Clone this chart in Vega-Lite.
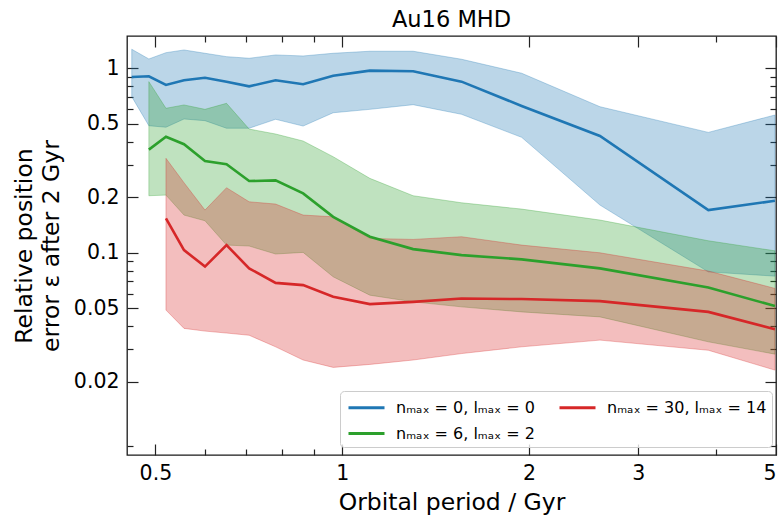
{
  "$schema": "https://vega.github.io/schema/vega-lite/v6.json",
  "width": 649,
  "height": 419,
  "autosize": {"type": "none"},
  "padding": {"left": 127, "top": 36, "right": 4, "bottom": 60},
  "config": {
    "font": "DejaVu Sans",
    "view": {"stroke": "#1a1a1a", "strokeWidth": 1.3},
    "axis": {"grid": false, "domain": false, "tickColor": "#222222", "tickWidth": 1.2, "labelColor": "#000000", "titleColor": "#000000", "labelFontSize": 20.5, "titleFontSize": 23.5, "titleFontWeight": "normal", "labelFlush": true, "labelOverlap": false, "labelBound": false}
  },
  "title": {"text": "Au16 MHD", "fontSize": 22.5, "fontWeight": "normal", "color": "#000000", "offset": 4},
  "datasets": {
    "d": [
      {"k": 0, "s": "nₘₐₓ = 0, lₘₐₓ = 0", "p": 0.458, "m": 0.899, "hi": 1.271, "lo": 0.703},
      {"k": 0, "s": "nₘₐₓ = 0, lₘₐₓ = 0", "p": 0.488, "m": 0.907, "hi": 1.126, "lo": 0.489},
      {"k": 0, "s": "nₘₐₓ = 0, lₘₐₓ = 0", "p": 0.520, "m": 0.814, "hi": 1.218, "lo": 0.480},
      {"k": 0, "s": "nₘₐₓ = 0, lₘₐₓ = 0", "p": 0.556, "m": 0.863, "hi": 1.260, "lo": 0.532},
      {"k": 0, "s": "nₘₐₓ = 0, lₘₐₓ = 0", "p": 0.601, "m": 0.891, "hi": 1.209, "lo": 0.521},
      {"k": 0, "s": "nₘₐₓ = 0, lₘₐₓ = 0", "p": 0.651, "m": 0.848, "hi": 1.159, "lo": 0.474},
      {"k": 0, "s": "nₘₐₓ = 0, lₘₐₓ = 0", "p": 0.708, "m": 0.800, "hi": 1.136, "lo": 0.474},
      {"k": 0, "s": "nₘₐₓ = 0, lₘₐₓ = 0", "p": 0.781, "m": 0.863, "hi": 1.184, "lo": 0.530},
      {"k": 0, "s": "nₘₐₓ = 0, lₘₐₓ = 0", "p": 0.865, "m": 0.821, "hi": 1.169, "lo": 0.487},
      {"k": 0, "s": "nₘₐₓ = 0, lₘₐₓ = 0", "p": 0.967, "m": 0.914, "hi": 1.209, "lo": 0.575},
      {"k": 0, "s": "nₘₐₓ = 0, lₘₐₓ = 0", "p": 1.108, "m": 0.973, "hi": 1.240, "lo": 0.600},
      {"k": 0, "s": "nₘₐₓ = 0, lₘₐₓ = 0", "p": 1.301, "m": 0.966, "hi": 1.240, "lo": 0.636},
      {"k": 0, "s": "nₘₐₓ = 0, lₘₐₓ = 0", "p": 1.557, "m": 0.848, "hi": 1.122, "lo": 0.564},
      {"k": 0, "s": "nₘₐₓ = 0, lₘₐₓ = 0", "p": 1.946, "m": 0.626, "hi": 0.942, "lo": 0.423},
      {"k": 0, "s": "nₘₐₓ = 0, lₘₐₓ = 0", "p": 2.602, "m": 0.430, "hi": 0.620, "lo": 0.1815},
      {"k": 0, "s": "nₘₐₓ = 0, lₘₐₓ = 0", "p": 3.89, "m": 0.1705, "hi": 0.450, "lo": 0.0788},
      {"k": 0, "s": "nₘₐₓ = 0, lₘₐₓ = 0", "p": 4.98, "m": 0.1915, "hi": 0.559, "lo": 0.0747},
      {"k": 1, "s": "nₘₐₓ = 6, lₘₐₓ = 2", "p": 0.488, "m": 0.363, "hi": 0.848, "lo": 0.204},
      {"k": 1, "s": "nₘₐₓ = 6, lₘₐₓ = 2", "p": 0.520, "m": 0.426, "hi": 0.608, "lo": 0.2056},
      {"k": 1, "s": "nₘₐₓ = 6, lₘₐₓ = 2", "p": 0.556, "m": 0.388, "hi": 0.634, "lo": 0.1602},
      {"k": 1, "s": "nₘₐₓ = 6, lₘₐₓ = 2", "p": 0.601, "m": 0.315, "hi": 0.600, "lo": 0.1492},
      {"k": 1, "s": "nₘₐₓ = 6, lₘₐₓ = 2", "p": 0.651, "m": 0.302, "hi": 0.647, "lo": 0.1101},
      {"k": 1, "s": "nₘₐₓ = 6, lₘₐₓ = 2", "p": 0.708, "m": 0.245, "hi": 0.469, "lo": 0.1088},
      {"k": 1, "s": "nₘₐₓ = 6, lₘₐₓ = 2", "p": 0.781, "m": 0.247, "hi": 0.441, "lo": 0.0985},
      {"k": 1, "s": "nₘₐₓ = 6, lₘₐₓ = 2", "p": 0.865, "m": 0.210, "hi": 0.404, "lo": 0.1005},
      {"k": 1, "s": "nₘₐₓ = 6, lₘₐₓ = 2", "p": 0.967, "m": 0.1568, "hi": 0.332, "lo": 0.0741},
      {"k": 1, "s": "nₘₐₓ = 6, lₘₐₓ = 2", "p": 1.108, "m": 0.1222, "hi": 0.2534, "lo": 0.0589},
      {"k": 1, "s": "nₘₐₓ = 6, lₘₐₓ = 2", "p": 1.301, "m": 0.1047, "hi": 0.204, "lo": 0.0542},
      {"k": 1, "s": "nₘₐₓ = 6, lₘₐₓ = 2", "p": 1.557, "m": 0.0971, "hi": 0.1868, "lo": 0.0509},
      {"k": 1, "s": "nₘₐₓ = 6, lₘₐₓ = 2", "p": 1.946, "m": 0.0921, "hi": 0.1726, "lo": 0.0478},
      {"k": 1, "s": "nₘₐₓ = 6, lₘₐₓ = 2", "p": 2.602, "m": 0.0823, "hi": 0.1505, "lo": 0.0449},
      {"k": 1, "s": "nₘₐₓ = 6, lₘₐₓ = 2", "p": 3.89, "m": 0.0649, "hi": 0.1162, "lo": 0.0329},
      {"k": 1, "s": "nₘₐₓ = 6, lₘₐₓ = 2", "p": 4.98, "m": 0.0514, "hi": 0.1025, "lo": 0.0282},
      {"k": 2, "s": "nₘₐₓ = 30, lₘₐₓ = 14", "p": 0.520, "m": 0.1537, "hi": 0.3255, "lo": 0.0489},
      {"k": 2, "s": "nₘₐₓ = 30, lₘₐₓ = 14", "p": 0.556, "m": 0.1034, "hi": 0.240, "lo": 0.0389},
      {"k": 2, "s": "nₘₐₓ = 30, lₘₐₓ = 14", "p": 0.601, "m": 0.0842, "hi": 0.1705, "lo": 0.0376},
      {"k": 2, "s": "nₘₐₓ = 30, lₘₐₓ = 14", "p": 0.651, "m": 0.1101, "hi": 0.2254, "lo": 0.0367},
      {"k": 2, "s": "nₘₐₓ = 30, lₘₐₓ = 14", "p": 0.708, "m": 0.0823, "hi": 0.1891, "lo": 0.0357},
      {"k": 2, "s": "nₘₐₓ = 30, lₘₐₓ = 14", "p": 0.781, "m": 0.0687, "hi": 0.1838, "lo": 0.0309},
      {"k": 2, "s": "nₘₐₓ = 30, lₘₐₓ = 14", "p": 0.865, "m": 0.0668, "hi": 0.1602, "lo": 0.0262},
      {"k": 2, "s": "nₘₐₓ = 30, lₘₐₓ = 14", "p": 0.967, "m": 0.0577, "hi": 0.1568, "lo": 0.0239},
      {"k": 2, "s": "nₘₐₓ = 30, lₘₐₓ = 14", "p": 1.108, "m": 0.0527, "hi": 0.1197, "lo": 0.0248},
      {"k": 2, "s": "nₘₐₓ = 30, lₘₐₓ = 14", "p": 1.301, "m": 0.0542, "hi": 0.1182, "lo": 0.0262},
      {"k": 2, "s": "nₘₐₓ = 30, lₘₐₓ = 14", "p": 1.557, "m": 0.0565, "hi": 0.1222, "lo": 0.0284},
      {"k": 2, "s": "nₘₐₓ = 30, lₘₐₓ = 14", "p": 1.946, "m": 0.0561, "hi": 0.1101, "lo": 0.0309},
      {"k": 2, "s": "nₘₐₓ = 30, lₘₐₓ = 14", "p": 2.602, "m": 0.0547, "hi": 0.1000, "lo": 0.0336},
      {"k": 2, "s": "nₘₐₓ = 30, lₘₐₓ = 14", "p": 3.89, "m": 0.0478, "hi": 0.0796, "lo": 0.0296},
      {"k": 2, "s": "nₘₐₓ = 30, lₘₐₓ = 14", "p": 4.98, "m": 0.0385, "hi": 0.0641, "lo": 0.0231}
    ]
  },
  "data": {"name": "d"},
  "layer": [
    {
      "transform": [{"filter": "datum.k == 0"}],
      "mark": {"type": "area", "color": "#1f77b4", "fillOpacity": 0.3, "stroke": "#1f77b4", "strokeOpacity": 0.3, "strokeWidth": 1},
      "encoding": {
        "x": {"field": "p", "type": "quantitative", "scale": {"type": "log", "domain": [0.45, 5], "nice": false},
          "axis": {"orient": "bottom", "values": [0.5, 0.6, 0.7, 0.8, 0.9, 1, 2, 3, 4, 5], "format": "~g",
            "labelExpr": "indexof([0.5,1,2,3,5], datum.value) >= 0 ? datum.label : ''",
            "tickSize": {"condition": {"test": "indexof([0.5,1,2,3,5], datum.value) >= 0", "value": -11}, "value": -6},
            "labelPadding": 19, "title": "Orbital period / Gyr", "titlePadding": 2}},
        "y": {"field": "hi", "type": "quantitative", "scale": {"type": "log", "domain": [0.008, 1.5], "nice": false},
          "axis": {"orient": "left", "values": [0.009, 0.02, 0.03, 0.04, 0.05, 0.06, 0.07, 0.08, 0.09, 0.1, 0.2, 0.3, 0.4, 0.5, 0.6, 0.7, 0.8, 0.9, 1], "format": "~g",
            "labelExpr": "indexof([0.02,0.05,0.1,0.2,0.5,1], datum.value) >= 0 ? datum.label : ''",
            "tickSize": {"condition": {"test": "indexof([0.02,0.05,0.1,0.2,0.5,1], datum.value) >= 0", "value": -11}, "value": -6},
            "labelPadding": 19, "title": ["Relative position", "error ε after 2 Gyr"], "titlePadding": 10, "titleLineHeight": 27}},
        "y2": {"field": "lo"}
      }
    },
    {
      "transform": [{"filter": "datum.k == 1"}],
      "mark": {"type": "area", "color": "#2ca02c", "fillOpacity": 0.3, "stroke": "#2ca02c", "strokeOpacity": 0.3, "strokeWidth": 1},
      "encoding": {
        "x": {"field": "p", "type": "quantitative", "scale": {"type": "log", "domain": [0.45, 5], "nice": false}, "axis": null},
        "y": {"field": "hi", "type": "quantitative", "scale": {"type": "log", "domain": [0.008, 1.5], "nice": false}, "axis": null},
        "y2": {"field": "lo"}
      }
    },
    {
      "transform": [{"filter": "datum.k == 2"}],
      "mark": {"type": "area", "color": "#d62728", "fillOpacity": 0.3, "stroke": "#d62728", "strokeOpacity": 0.3, "strokeWidth": 1},
      "encoding": {
        "x": {"field": "p", "type": "quantitative", "scale": {"type": "log", "domain": [0.45, 5], "nice": false}, "axis": null},
        "y": {"field": "hi", "type": "quantitative", "scale": {"type": "log", "domain": [0.008, 1.5], "nice": false}, "axis": null},
        "y2": {"field": "lo"}
      }
    },
    {
      "mark": {"type": "line", "strokeWidth": 2.6},
      "encoding": {
        "x": {"field": "p", "type": "quantitative", "scale": {"type": "log", "domain": [0.45, 5], "nice": false},
          "axis": {"orient": "top", "values": [0.5, 0.6, 0.7, 0.8, 0.9, 1, 2, 3, 4, 5], "labels": false, "title": null,
            "tickSize": {"condition": {"test": "indexof([0.5,1,2,3,5], datum.value) >= 0", "value": -11}, "value": -6}}},
        "y": {"field": "m", "type": "quantitative", "scale": {"type": "log", "domain": [0.008, 1.5], "nice": false},
          "axis": {"orient": "right", "values": [0.009, 0.02, 0.03, 0.04, 0.05, 0.06, 0.07, 0.08, 0.09, 0.1, 0.2, 0.3, 0.4, 0.5, 0.6, 0.7, 0.8, 0.9, 1], "labels": false, "title": null,
            "tickSize": {"condition": {"test": "indexof([0.02,0.05,0.1,0.2,0.5,1], datum.value) >= 0", "value": -11}, "value": -6}}},
        "color": {"field": "s", "type": "nominal",
          "scale": {"domain": ["nₘₐₓ = 0, lₘₐₓ = 0", "nₘₐₓ = 30, lₘₐₓ = 14", "nₘₐₓ = 6, lₘₐₓ = 2"], "range": ["#1f77b4", "#d62728", "#2ca02c"]},
          "legend": {"orient": "none", "legendX": 213, "legendY": 355, "columns": 2, "direction": "horizontal", "symbolType": "M-0.8,0H2.8", "symbolSize": 400, "symbolStrokeWidth": 3, "labelOffset": 28, "labelFontSize": 16, "labelColor": "#000000", "title": null, "fillColor": "rgba(255,255,255,0.8)", "strokeColor": "#cccccc", "cornerRadius": 4, "padding": 5, "columnPadding": 18, "rowPadding": 6, "labelLimit": 300}}
      }
    }
  ],
  "resolve": {"axis": {"x": "independent", "y": "independent"}}
}
